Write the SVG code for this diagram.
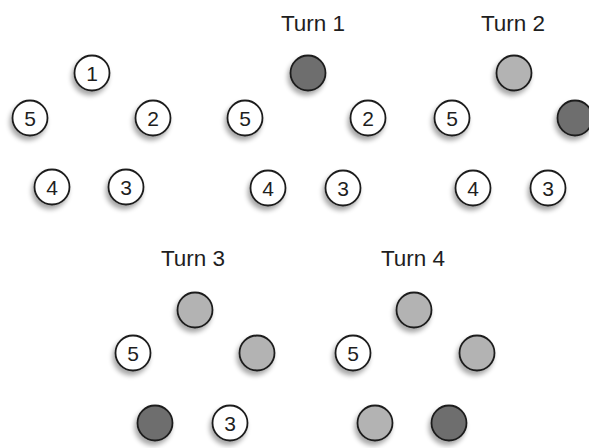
<svg xmlns="http://www.w3.org/2000/svg" width="589" height="448" viewBox="0 0 589 448">
<style>
.c{stroke:#1e1e1e;stroke-width:1.8}
.w{fill:#ffffff}
.l{fill:#b3b3b3}
.d{fill:#6e6e6e}
.n{font-family:"Liberation Sans",Arial,sans-serif;font-size:21px;fill:#1e1e1e;text-anchor:middle}
.t{font-family:"Liberation Sans",Arial,sans-serif;font-size:22.5px;fill:#1e1e1e;text-anchor:middle}
</style>
<defs>
<filter id="sh" x="-50%" y="-50%" width="200%" height="200%">
<feGaussianBlur in="SourceAlpha" stdDeviation="2.5"/>
<feOffset dx="-2" dy="4" result="b"/>
<feComponentTransfer><feFuncA type="linear" slope="0.35"/></feComponentTransfer>
<feMerge><feMergeNode/><feMergeNode in="SourceGraphic"/></feMerge>
</filter>
</defs>
<g id="start">
<g filter="url(#sh)"><circle class="c w" cx="92" cy="73" r="17.5"/></g><text class="n" x="92" y="81">1</text>
<g filter="url(#sh)"><circle class="c w" cx="30" cy="118" r="17.5"/></g><text class="n" x="30" y="126">5</text>
<g filter="url(#sh)"><circle class="c w" cx="153" cy="118" r="17.5"/></g><text class="n" x="153" y="126">2</text>
<g filter="url(#sh)"><circle class="c w" cx="52" cy="187" r="17.5"/></g><text class="n" x="52" y="195">4</text>
<g filter="url(#sh)"><circle class="c w" cx="126" cy="187" r="17.5"/></g><text class="n" x="126" y="195">3</text>
</g>
<g id="turn1">
<text class="t" x="313" y="31">Turn 1</text>
<g filter="url(#sh)"><circle class="c d" cx="308" cy="73" r="17.5"/></g>
<g filter="url(#sh)"><circle class="c w" cx="245" cy="118" r="17.5"/></g><text class="n" x="245" y="126">5</text>
<g filter="url(#sh)"><circle class="c w" cx="368" cy="118" r="17.5"/></g><text class="n" x="368" y="126">2</text>
<g filter="url(#sh)"><circle class="c w" cx="268" cy="188" r="17.5"/></g><text class="n" x="268" y="196">4</text>
<g filter="url(#sh)"><circle class="c w" cx="343" cy="188" r="17.5"/></g><text class="n" x="343" y="196">3</text>
</g>
<g id="turn2">
<text class="t" x="513" y="31">Turn 2</text>
<g filter="url(#sh)"><circle class="c l" cx="514" cy="73" r="17.5"/></g>
<g filter="url(#sh)"><circle class="c w" cx="452" cy="118" r="17.5"/></g><text class="n" x="452" y="126">5</text>
<g filter="url(#sh)"><circle class="c d" cx="575" cy="118" r="17.5"/></g>
<g filter="url(#sh)"><circle class="c w" cx="473" cy="188" r="17.5"/></g><text class="n" x="473" y="196">4</text>
<g filter="url(#sh)"><circle class="c w" cx="548" cy="188" r="17.5"/></g><text class="n" x="548" y="196">3</text>
</g>
<g id="turn3">
<text class="t" x="193" y="266">Turn 3</text>
<g filter="url(#sh)"><circle class="c l" cx="195" cy="310" r="17.5"/></g>
<g filter="url(#sh)"><circle class="c w" cx="133" cy="353" r="17.5"/></g><text class="n" x="133" y="361">5</text>
<g filter="url(#sh)"><circle class="c l" cx="257" cy="353" r="17.5"/></g>
<g filter="url(#sh)"><circle class="c d" cx="155" cy="423" r="17.5"/></g>
<g filter="url(#sh)"><circle class="c w" cx="230" cy="423" r="17.5"/></g><text class="n" x="230" y="431">3</text>
</g>
<g id="turn4">
<text class="t" x="413" y="266">Turn 4</text>
<g filter="url(#sh)"><circle class="c l" cx="414" cy="310" r="17.5"/></g>
<g filter="url(#sh)"><circle class="c w" cx="353" cy="353" r="17.5"/></g><text class="n" x="353" y="361">5</text>
<g filter="url(#sh)"><circle class="c l" cx="477" cy="353" r="17.5"/></g>
<g filter="url(#sh)"><circle class="c l" cx="375" cy="423" r="17.5"/></g>
<g filter="url(#sh)"><circle class="c d" cx="449" cy="423" r="17.5"/></g>
</g>
<g id="connectors"/>
</svg>
